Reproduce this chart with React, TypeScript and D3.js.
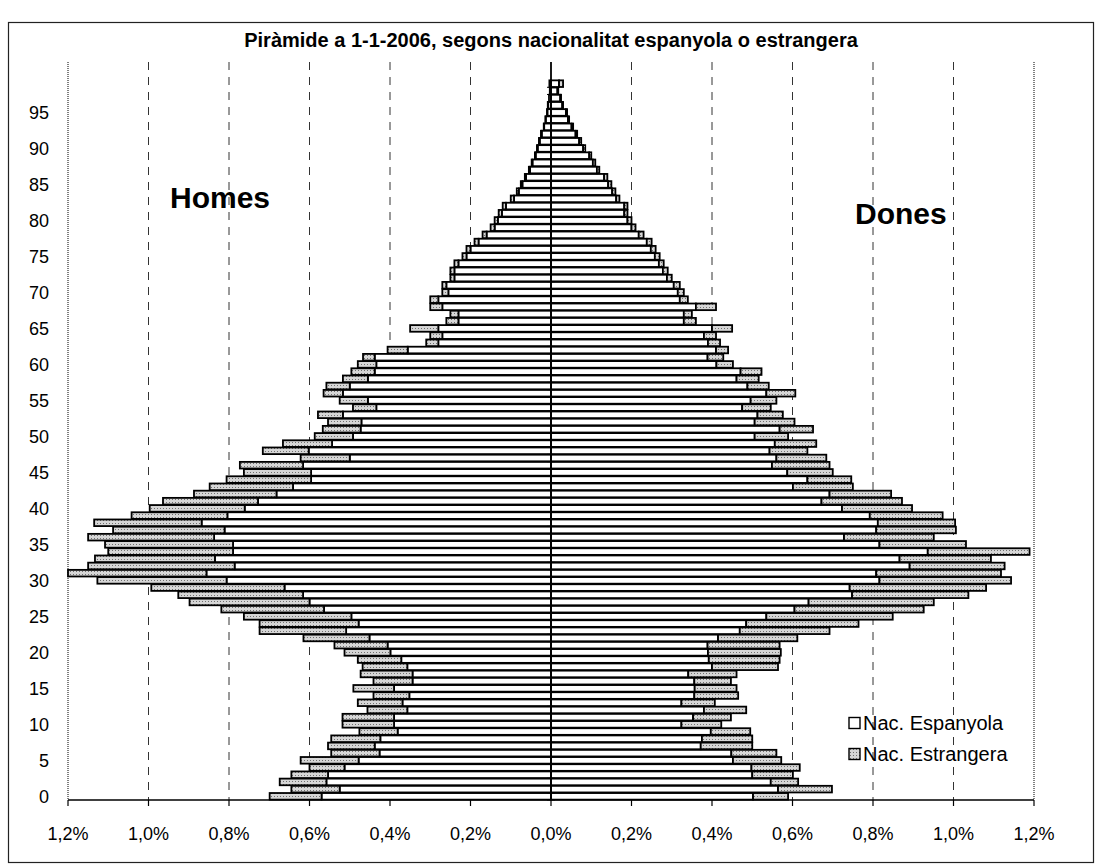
import React, { useEffect, useRef } from "react";
import * as d3 from "d3";

// edats 0..99
const ages: number[] = d3.range(0, 100);

// % de població, homes, nacionalitat espanyola
const menSpanish = [
  0.570, 0.525, 0.558, 0.554, 0.513, 0.478, 0.426, 0.438, 0.424, 0.381,
  0.390, 0.390, 0.357, 0.369, 0.352, 0.390, 0.344, 0.344, 0.357, 0.372,
  0.399, 0.406, 0.451, 0.509, 0.478, 0.496, 0.564, 0.600, 0.616, 0.662,
  0.806, 0.856, 0.786, 0.835, 0.790, 0.790, 0.837, 0.811, 0.868, 0.804,
  0.761, 0.728, 0.682, 0.641, 0.596, 0.596, 0.616, 0.500, 0.602, 0.544,
  0.492, 0.473, 0.471, 0.517, 0.434, 0.455, 0.517, 0.500, 0.455, 0.438,
  0.434, 0.438, 0.356, 0.280, 0.270, 0.280, 0.230, 0.230, 0.270, 0.280,
  0.255, 0.260, 0.240, 0.240, 0.230, 0.210, 0.200, 0.180, 0.160, 0.140,
  0.132, 0.122, 0.112, 0.092, 0.080, 0.071, 0.062, 0.052, 0.046, 0.038,
  0.033, 0.028, 0.023, 0.017, 0.013, 0.009, 0.007, 0.005, 0.003, 0.004,
];

// homes, nacionalitat estrangera
const menForeign = [
  0.129, 0.120, 0.116, 0.091, 0.087, 0.144, 0.120, 0.116, 0.122, 0.095,
  0.128, 0.128, 0.099, 0.111, 0.089, 0.101, 0.097, 0.129, 0.111, 0.108,
  0.114, 0.132, 0.164, 0.215, 0.246, 0.267, 0.255, 0.298, 0.310, 0.331,
  0.321, 0.344, 0.364, 0.298, 0.310, 0.318, 0.313, 0.277, 0.267, 0.238,
  0.236, 0.236, 0.205, 0.207, 0.210, 0.167, 0.157, 0.122, 0.114, 0.122,
  0.095, 0.094, 0.083, 0.062, 0.058, 0.070, 0.048, 0.058, 0.062, 0.058,
  0.046, 0.029, 0.050, 0.030, 0.030, 0.070, 0.030, 0.020, 0.030, 0.020,
  0.015, 0.010, 0.010, 0.010, 0.010, 0.010, 0.010, 0.010, 0.010, 0.010,
  0.008, 0.008, 0.008, 0.008, 0.005, 0.004, 0.003, 0.003, 0.002, 0.002,
  0.002, 0.002, 0.002, 0.001, 0.001, 0.001, 0.001, 0.0, 0.0, 0.0,
];

// dones, nacionalitat espanyola
const womenSpanish = [
  0.502, 0.564, 0.546, 0.500, 0.498, 0.452, 0.448, 0.372, 0.375, 0.397,
  0.324, 0.353, 0.380, 0.324, 0.356, 0.357, 0.356, 0.341, 0.400, 0.392,
  0.390, 0.389, 0.415, 0.469, 0.485, 0.535, 0.605, 0.640, 0.748, 0.742,
  0.816, 0.808, 0.891, 0.866, 0.936, 0.816, 0.728, 0.808, 0.812, 0.792,
  0.723, 0.672, 0.692, 0.601, 0.637, 0.587, 0.549, 0.560, 0.543, 0.556,
  0.506, 0.568, 0.506, 0.513, 0.475, 0.496, 0.535, 0.488, 0.461, 0.471,
  0.411, 0.389, 0.410, 0.390, 0.380, 0.400, 0.330, 0.330, 0.360, 0.320,
  0.315, 0.305, 0.288, 0.278, 0.268, 0.258, 0.248, 0.238, 0.218, 0.200,
  0.190, 0.182, 0.182, 0.162, 0.152, 0.142, 0.132, 0.114, 0.104, 0.095,
  0.080, 0.070, 0.061, 0.051, 0.042, 0.037, 0.028, 0.023, 0.016, 0.020,
];

// dones, nacionalitat estrangera
const womenForeign = [
  0.087, 0.134, 0.068, 0.101, 0.120, 0.120, 0.112, 0.128, 0.125, 0.098,
  0.099, 0.094, 0.105, 0.083, 0.109, 0.104, 0.091, 0.120, 0.164, 0.176,
  0.181, 0.179, 0.197, 0.223, 0.279, 0.314, 0.321, 0.311, 0.289, 0.339,
  0.327, 0.310, 0.236, 0.227, 0.253, 0.215, 0.223, 0.198, 0.192, 0.181,
  0.174, 0.200, 0.153, 0.149, 0.109, 0.113, 0.143, 0.124, 0.094, 0.103,
  0.083, 0.083, 0.099, 0.063, 0.071, 0.064, 0.072, 0.053, 0.055, 0.052,
  0.041, 0.039, 0.030, 0.030, 0.030, 0.050, 0.030, 0.020, 0.050, 0.020,
  0.015, 0.015, 0.012, 0.012, 0.012, 0.012, 0.012, 0.012, 0.012, 0.010,
  0.010, 0.008, 0.008, 0.008, 0.008, 0.008, 0.008, 0.006, 0.006, 0.005,
  0.005, 0.005, 0.004, 0.004, 0.003, 0.003, 0.002, 0.002, 0.002, 0.010,
];

const xTicks = [-1.2, -1.0, -0.8, -0.6, -0.4, -0.2, 0, 0.2, 0.4, 0.6, 0.8, 1.0, 1.2];
const yLabelAges = d3.range(0, 100, 5);

const title = "Piràmide a 1-1-2006, segons nacionalitat espanyola o estrangera";
const sideLabels = ["Homes", "Dones"];
const legendItems = ["Nac. Espanyola", "Nac. Estrangera"];

const Piramide = () => {
  const svgRef = useRef<SVGSVGElement | null>(null);

  useEffect(() => {
    const width = 1103;
    const height = 868;
    const plotLeft = 68;
    const plotRight = 1034;
    const plotTop = 80;
    const plotBottom = 800;
    const font = "'Liberation Sans', Arial, sans-serif";

    const svg = d3.select(svgRef.current);
    svg.selectAll("*").remove();

    const defs = svg.append("defs");
    const pat = defs
      .append("pattern")
      .attr("id", "estr")
      .attr("width", 3)
      .attr("height", 3)
      .attr("patternUnits", "userSpaceOnUse");
    pat.append("rect").attr("width", 3).attr("height", 3).attr("fill", "#d6d6d6");
    pat.append("rect").attr("x", 1).attr("y", 1).attr("width", 1).attr("height", 1).attr("fill", "#707070");

    svg.append("rect").attr("width", width).attr("height", height).attr("fill", "#fff");

    // marc exterior
    svg
      .append("rect")
      .attr("x", 8.5)
      .attr("y", 22.5)
      .attr("width", 1085)
      .attr("height", 840)
      .attr("fill", "none")
      .attr("stroke", "#222")
      .attr("stroke-width", 1.2);

    const x = d3.scaleLinear().domain([-1.2, 1.2]).range([plotLeft, plotRight]);
    const y = d3
      .scaleBand<string>()
      .domain(ages.map(String))
      .range([plotBottom, plotTop])
      .paddingInner(0.08)
      .paddingOuter(0.05);

    // vores de l'àrea del gràfic
    svg
      .append("g")
      .selectAll("line")
      .data([plotLeft, plotRight])
      .join("line")
      .attr("x1", (d) => d)
      .attr("x2", (d) => d)
      .attr("y1", plotTop - 18)
      .attr("y2", plotBottom)
      .attr("stroke", "#555")
      .attr("stroke-width", 1.5)
      .attr("stroke-dasharray", "1,1");

    // línies de graella
    svg
      .append("g")
      .selectAll("line")
      .data(xTicks.filter((t) => t !== 0 && Math.abs(t) < 1.2))
      .join("line")
      .attr("x1", (d) => x(d))
      .attr("x2", (d) => x(d))
      .attr("y1", plotTop - 18)
      .attr("y2", plotBottom)
      .attr("stroke", "#333")
      .attr("stroke-width", 1)
      .attr("stroke-dasharray", "8,7");

    const rows = ages.map((a, i) => ({
      age: a,
      mSp: menSpanish[i],
      mFo: menForeign[i],
      fSp: womenSpanish[i],
      fFo: womenForeign[i],
    }));

    const segs = rows.flatMap((r) => [
      { age: r.age, x0: -r.mSp, x1: 0, kind: "sp" },
      { age: r.age, x0: -(r.mSp + r.mFo), x1: -r.mSp, kind: "fo" },
      { age: r.age, x0: 0, x1: r.fSp, kind: "sp" },
      { age: r.age, x0: r.fSp, x1: r.fSp + r.fFo, kind: "fo" },
    ]);

    svg
      .append("g")
      .attr("stroke", "#000")
      .attr("stroke-width", 1.8)
      .selectAll("rect")
      .data(segs.filter((s) => s.x1 - s.x0 > 0))
      .join("rect")
      .attr("x", (d) => x(d.x0))
      .attr("y", (d) => y(String(d.age)) as number)
      .attr("width", (d) => x(d.x1) - x(d.x0))
      .attr("height", y.bandwidth())
      .attr("fill", (d) => (d.kind === "sp" ? "#fff" : "url(#estr)"));

    // eix central
    svg
      .append("line")
      .attr("x1", x(0))
      .attr("x2", x(0))
      .attr("y1", plotTop - 18)
      .attr("y2", plotBottom)
      .attr("stroke", "#000")
      .attr("stroke-width", 1.8);

    svg
      .append("g")
      .selectAll("line")
      .data(ages)
      .join("line")
      .attr("x1", x(0) - 4)
      .attr("x2", x(0) + 4)
      .attr("y1", (d) => (y(String(d)) as number) + y.bandwidth() + 0.3)
      .attr("y2", (d) => (y(String(d)) as number) + y.bandwidth() + 0.3)
      .attr("stroke", "#000")
      .attr("stroke-width", 1);

    // eix x
    const xAxis = svg.append("g").attr("font-family", font).attr("font-size", 18);
    xAxis
      .append("line")
      .attr("x1", plotLeft)
      .attr("x2", plotRight)
      .attr("y1", plotBottom)
      .attr("y2", plotBottom)
      .attr("stroke", "#000")
      .attr("stroke-width", 1.5);
    xAxis
      .selectAll("line.tick")
      .data(xTicks)
      .join("line")
      .attr("class", "tick")
      .attr("x1", (d) => x(d))
      .attr("x2", (d) => x(d))
      .attr("y1", plotBottom)
      .attr("y2", plotBottom + 6)
      .attr("stroke", "#000")
      .attr("stroke-width", 1.2);
    xAxis
      .selectAll("text")
      .data(xTicks)
      .join("text")
      .attr("x", (d) => x(d))
      .attr("y", 840)
      .attr("text-anchor", "middle")
      .text((d) => Math.abs(d).toFixed(1).replace(".", ",") + "%");

    // eix y
    svg
      .append("g")
      .attr("font-family", font)
      .attr("font-size", 18)
      .selectAll("text")
      .data(yLabelAges)
      .join("text")
      .attr("x", 49)
      .attr("y", (d) => (y(String(d)) as number) + y.bandwidth() / 2 + 6.5)
      .attr("text-anchor", "end")
      .text((d) => d);

    // títol
    svg
      .append("text")
      .attr("x", 551)
      .attr("y", 47)
      .attr("text-anchor", "middle")
      .attr("font-family", font)
      .attr("font-weight", "bold")
      .attr("font-size", 20)
      .text(title);

    svg
      .append("g")
      .attr("font-family", font)
      .attr("font-weight", "bold")
      .attr("font-size", 30)
      .selectAll("text")
      .data(sideLabels)
      .join("text")
      .attr("x", (d, i) => (i === 0 ? 170 : 855))
      .attr("y", (d, i) => (i === 0 ? 208 : 224))
      .text((d) => d);

    // llegenda
    const leg = svg
      .append("g")
      .attr("font-family", font)
      .attr("font-size", 20)
      .selectAll("g")
      .data(legendItems)
      .join("g")
      .attr("transform", (d, i) => `translate(849,${723 + i * 31})`);
    leg
      .append("rect")
      .attr("x", 0)
      .attr("y", -5.5)
      .attr("width", 11)
      .attr("height", 11)
      .attr("stroke", "#000")
      .attr("stroke-width", 1.4)
      .attr("fill", (d, i) => (i === 0 ? "#fff" : "url(#estr)"));
    leg
      .append("text")
      .attr("x", 14)
      .attr("y", 7)
      .text((d) => d);
  }, []);

  return (
    <svg
      ref={svgRef}
      width={1103}
      height={868}
      viewBox="0 0 1103 868"
      style={{ position: "absolute", left: 0, top: 0 }}
    />
  );
};

export default function App() {
  return <Piramide />;
}
